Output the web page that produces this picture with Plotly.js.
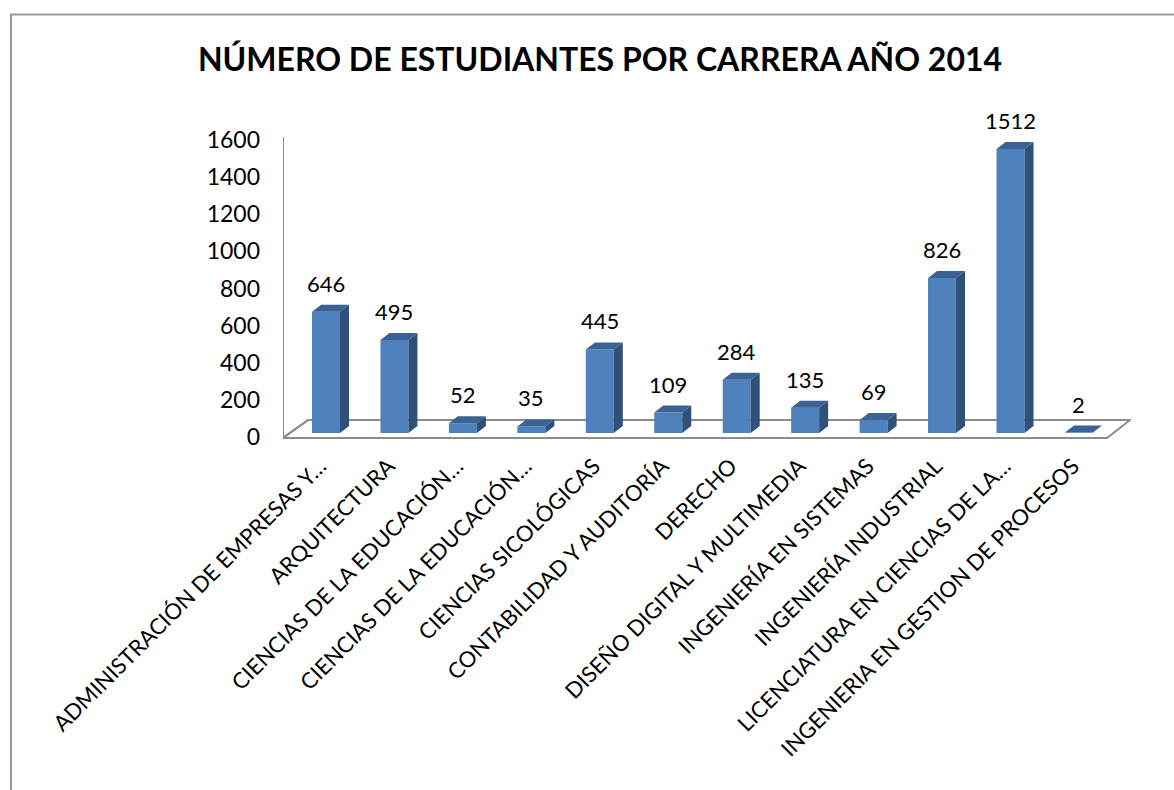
<!DOCTYPE html>
<html>
<head>
<meta charset="utf-8">
<script src="https://cdn.plot.ly/plotly-3.0.1.min.js"></script>
<style>
  html, body { margin: 0; padding: 0; background: #ffffff; }
  #chart { width: 1174px; height: 790px; }
</style>
</head>
<body>
<div id="chart"></div>
<script>
// ---- data ----
const categories = [
  "ADMINISTRACIÓN DE EMPRESAS Y…",
  "ARQUITECTURA",
  "CIENCIAS DE LA EDUCACIÓN…",
  "CIENCIAS DE LA EDUCACIÓN…",
  "CIENCIAS SICOLÓGICAS",
  "CONTABILIDAD Y AUDITORÍA",
  "DERECHO",
  "DISEÑO DIGITAL Y MULTIMEDIA",
  "INGENIERÍA EN SISTEMAS",
  "INGENIERÍA INDUSTRIAL",
  "LICENCIATURA EN CIENCIAS DE LA…",
  "INGENIERIA EN GESTION DE PROCESOS"
];
const values = [646, 495, 52, 35, 445, 109, 284, 135, 69, 826, 1512, 2];
const yTickVals = [0, 200, 400, 600, 800, 1000, 1200, 1400, 1600];
const titleText = "NÚMERO DE ESTUDIANTES POR CARRERA AÑO 2014";

// ---- geometry / style constants (pixels) ----
const W = 1174, H = 790;
const ML = 283, MR = 43, MT = 100, MB = 345;
const SLOT = 68.45;        // px per category
const BAR0 = 326;          // px centre of first bar
const PXU = 0.1878;        // px per unit for bars
const BZ = 433;            // px of bar base
const TZ = 437, TTOP = 140; // tick-axis 0 and 1600 px
const BARW = 28 / SLOT;
const DX = 9 / SLOT, DY = 7 / PXU;   // 3-D depth
const LBL_SHIFT = 6 / SLOT;          // category label nudge (left)
const FONT = "Lato";
const FRONT = "#4F81BD", SIDE = "#2F5079", TOP = "#3B6294";

const idx = categories.map((_, i) => i);
const xRange = [(ML - BAR0) / SLOT, (W - MR - BAR0) / SLOT];
const y2Range = [-(H - MB - BZ) / PXU, (BZ - MT) / PXU];
const tScale = (TZ - TTOP) / 1600;
const yRange = [-(H - MB - TZ) / tScale, (TZ - MT) / tScale];
const px2x = p => (p - BAR0) / SLOT;
const px2y = p => (BZ - p) / PXU;

// side and top faces
const sideX = [], sideY = [], topX = [], topY = [];
idx.forEach(i => {
  const v = values[i], r = i + BARW / 2, l = i - BARW / 2;
  sideX.push(r, r + DX, r + DX, r, r, null);
  sideY.push(0, DY, v + DY, v, 0, null);
  topX.push(l, r, r + DX, l + DX, l, null);
  topY.push(v, v, v + DY, v + DY, v, null);
});

const traces = [
  { type: "bar", x: idx, y: values, width: BARW, yaxis: "y2",
    marker: { color: FRONT, line: { width: 0 } }, hoverinfo: "skip", showlegend: false },
  { type: "scatter", mode: "lines", x: sideX, y: sideY, yaxis: "y2", fill: "toself",
    fillcolor: SIDE, line: { width: 0, color: SIDE }, hoverinfo: "skip", showlegend: false },
  { type: "scatter", mode: "lines", x: topX, y: topY, yaxis: "y2", fill: "toself",
    fillcolor: TOP, line: { width: 0, color: TOP }, hoverinfo: "skip", showlegend: false },
  // invisible trace to activate tick axis
  { type: "scatter", mode: "markers", x: [idx[0]], y: [0], yaxis: "y",
    marker: { opacity: 0 }, hoverinfo: "skip", showlegend: false }
];

const fl = { fx: px2x(283), fxr: px2x(1107), bx: px2x(308), bxr: px2x(1130),
             fy: px2y(438), by: px2y(420), vt: px2y(137) };
const floorPath = `M ${fl.fx} ${fl.fy} L ${fl.fxr} ${fl.fy} L ${fl.bxr} ${fl.by} L ${fl.bx} ${fl.by} Z`;
const wallPath = `M ${fl.fx} ${fl.vt} L ${fl.fx} ${fl.fy} M ${fl.fx} ${fl.fy} L ${fl.bx} ${fl.by}`;

const paperX = p => (p - ML) / (W - ML - MR);
const paperY = p => (H - MB - p) / (H - MT - MB);

const layout = {
  width: W, height: H,
  margin: { l: ML, r: MR, t: MT, b: MB, pad: 0 },
  paper_bgcolor: "#ffffff", plot_bgcolor: "rgba(0,0,0,0)",
  showlegend: false,
  font: { family: FONT, color: "#000000", size: 22 },
  title: {
    text: "<b>" + titleText + "</b>",
    font: { family: FONT, size: 32, color: "#000000" },
    x: 600 / W, xanchor: "center", xref: "container",
    y: 1 - 60 / H, yanchor: "middle", yref: "container"
  },
  xaxis: {
    type: "linear", range: xRange, tickvals: idx.map(i => i - LBL_SHIFT), ticktext: categories,
    tickangle: -45, showgrid: false, zeroline: false, showline: false,
    ticks: "", tickfont: { family: FONT, size: 22, color: "#000000" },
    ticklabelstandoff: 3, fixedrange: true
  },
  yaxis: {
    range: yRange, tickvals: yTickVals, showgrid: false, zeroline: false,
    showline: false, ticks: "", ticklabelstandoff: 22,
    tickfont: { family: FONT, size: 23, color: "#000000" }, fixedrange: true
  },
  yaxis2: { range: y2Range, overlaying: "y", visible: false, fixedrange: true },
  shapes: [
    { type: "path", xref: "x", yref: "y2", path: floorPath, layer: "below",
      line: { color: "#8C8C8C", width: 2 } },
    { type: "path", xref: "x", yref: "y2", path: wallPath, layer: "below",
      line: { color: "#8C8C8C", width: 2 } },
    { type: "rect", xref: "paper", yref: "paper",
      x0: paperX(11), x1: paperX(1177), y0: paperY(14.5), y1: paperY(805),
      line: { color: "#9A9A9A", width: 2 }, layer: "below" }
  ],
  annotations: idx.map(i => ({
    x: i, y: values[i], xref: "x", yref: "y2", text: String(values[i]),
    showarrow: false, yanchor: "bottom", yshift: 13,
    font: { family: FONT, size: 22, color: "#000000" }
  }))
};

Plotly.newPlot("chart", traces, layout, { staticPlot: true, displayModeBar: false });
</script>
</body>
</html>
